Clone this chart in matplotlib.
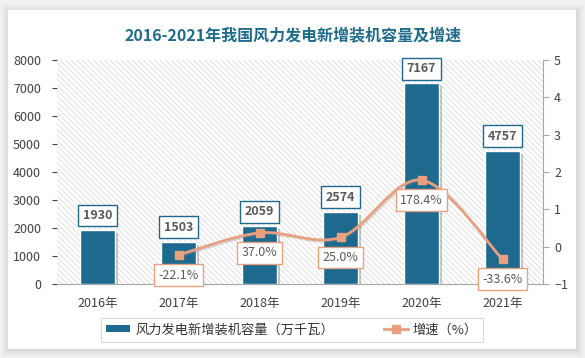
import matplotlib
matplotlib.use('Agg')
import matplotlib.pyplot as plt
import matplotlib.patheffects as pe
from matplotlib.patches import Rectangle, PathPatch, Patch
from matplotlib.lines import Line2D
from matplotlib.path import Path

# ---------------- data ----------------
years = ['2016年', '2017年', '2018年', '2019年', '2020年', '2021年']
capacity = [1930, 1503, 2059, 2574, 7167, 4757]
growth_idx = [1, 2, 3, 4, 5]
growth_pct = [-22.1, 37.0, 25.0, 178.4, -33.6]
growth_labels = ['-22.1%', '37.0%', '25.0%', '178.4%', '-33.6%']
left_ticks = [0, 1000, 2000, 3000, 4000, 5000, 6000, 7000, 8000]
right_ticks = [-1, 0, 1, 2, 3, 4, 5]
title = '2016-2021年我国风力发电新增装机容量及增速'
legend_labels = ['风力发电新增装机容量（万千瓦）', '增速（%）']

# ---------------- style ----------------
plt.rcParams['font.family'] = ['Noto Sans CJK SC', 'DejaVu Sans']
plt.rcParams['hatch.linewidth'] = 0.5
BAR = '#1D6A8E'
LINE = '#E8A080'
TXT = '#404040'
W, H = 585, 358

fig = plt.figure(figsize=(W / 100, H / 100), dpi=100, facecolor='#f0f0f0')

def fx(px):
    return px / W

def fy(py):
    return 1 - py / H

# card shadow + card
for grow, col in [(7, '#ebebeb'), (5, '#e5e5e5'), (3, '#dedede'), (1.5, '#d8d8d8')]:
    fig.patches.append(Rectangle((fx(8 - grow + 1), fy(349 + grow)), fx(568 + 2 * grow - 1), (339 + 2 * grow - 2) / H,
                                 transform=fig.transFigure, facecolor=col, edgecolor='none', zorder=-2))
fig.patches.append(Rectangle((fx(8), fy(349)), fx(568), 339 / H, transform=fig.transFigure,
                             facecolor='white', edgecolor='none', zorder=-1))

ax = fig.add_axes([fx(57), fy(284), fx(543 - 57), (284 - 60) / H])
ax.set_zorder(1)
ax.set_facecolor('white')
ax.add_patch(Rectangle((0, 0), 1, 1, transform=ax.transAxes, facecolor='none',
                       edgecolor='#d4d4d4', linewidth=0, hatch='\\' * 6, zorder=0))

x = list(range(len(years)))
bars = ax.bar(x, capacity, width=0.43, color=BAR, edgecolor='white', linewidth=1, zorder=3)
for b in bars:
    b.set_path_effects([pe.SimplePatchShadow(offset=(2, -2), shadow_rgbFace='#555555', alpha=0.35), pe.Normal()])

ax.set_xlim(-0.5, len(years) - 0.5)
ax.set_ylim(0, 8000)
ax.set_yticks(left_ticks)
ax.set_xticks(x)
ax.set_xticklabels(years)
ax.tick_params(axis='y', left=False, labelsize=9, colors=TXT, pad=8)
ax.tick_params(axis='x', bottom=False, labelsize=9, colors=TXT, pad=6)
for s in ['left', 'top', 'right']:
    ax.spines[s].set_visible(False)
ax.spines['bottom'].set_color('#a6a6a6')

for i, v in zip(x, capacity):
    ax.annotate(str(v), (i, v), xytext=(0, 10.5), textcoords='offset points', ha='center', va='center',
                fontsize=9, fontweight='bold', color='#595959', zorder=6,
                bbox=dict(boxstyle='square,pad=0.35', fc='white', ec=BAR, lw=1))

ax2 = ax.twinx()
ax2.set_zorder(2)
ax2.set_ylim(-1, 5)
ax2.set_yticks(right_ticks)
ax2.patch.set_visible(False)
for s in ['left', 'top', 'bottom']:
    ax2.spines[s].set_visible(False)
ax2.spines['right'].set_color('#a6a6a6')
ax2.tick_params(axis='y', right=True, length=4, color='#a6a6a6', labelsize=9, labelcolor=TXT, pad=4)

gy = [g / 100 for g in growth_pct]
# smooth (Catmull-Rom as cubic Bezier) curve through the data points
pts = list(zip(growth_idx, gy))
verts = [pts[0]]
codes = [Path.MOVETO]
n = len(pts)
for k in range(n - 1):
    p0 = pts[k - 1] if k > 0 else pts[k]
    p1 = pts[k]
    p2 = pts[k + 1]
    p3 = pts[k + 2] if k + 2 < n else pts[k + 1]
    c1 = (p1[0] + (p2[0] - p0[0]) / 6, p1[1] + (p2[1] - p0[1]) / 6)
    c2 = (p2[0] - (p3[0] - p1[0]) / 6, p2[1] - (p3[1] - p1[1]) / 6)
    verts += [c1, c2, p2]
    codes += [Path.CURVE4] * 3
ax2.add_patch(PathPatch(Path(verts, codes), facecolor='none', edgecolor=LINE, lw=2, zorder=4,
                        path_effects=[pe.SimpleLineShadow(offset=(1, -1), shadow_color='#888888', alpha=0.3), pe.Normal()]))
ax2.plot(growth_idx, gy, linestyle='none', marker='s', markersize=6, color=LINE, zorder=5)

for i, v, lab in zip(growth_idx, gy, growth_labels):
    ax2.annotate(lab, (i, v), xytext=(0, -14.5), textcoords='offset points', ha='center', va='center',
                 fontsize=9, color='#595959', zorder=6,
                 bbox=dict(boxstyle='square,pad=0.35', fc='white', ec=LINE, lw=1))

fig.text(fx(293), fy(35), title, ha='center', va='center', fontsize=11.5, fontweight='bold', color='#1F6B8C')

handles = [Patch(facecolor=BAR, edgecolor='none'),
           Line2D([], [], color=LINE, lw=2, marker='s', markersize=6)]
leg = fig.legend(handles, legend_labels, loc='center', bbox_to_anchor=(fx(292), fy(330)), ncol=2,
                 frameon=True, fancybox=False, edgecolor='#d0d0d0', fontsize=9.5, handlelength=1.8,
                 handleheight=0.45, columnspacing=3.8, borderpad=0.4, handletextpad=0.4)
leg.get_frame().set_linewidth(0.8)
for t in leg.get_texts():
    t.set_color('#333333')

fig.savefig('out.png', dpi=100, facecolor=fig.get_facecolor())
